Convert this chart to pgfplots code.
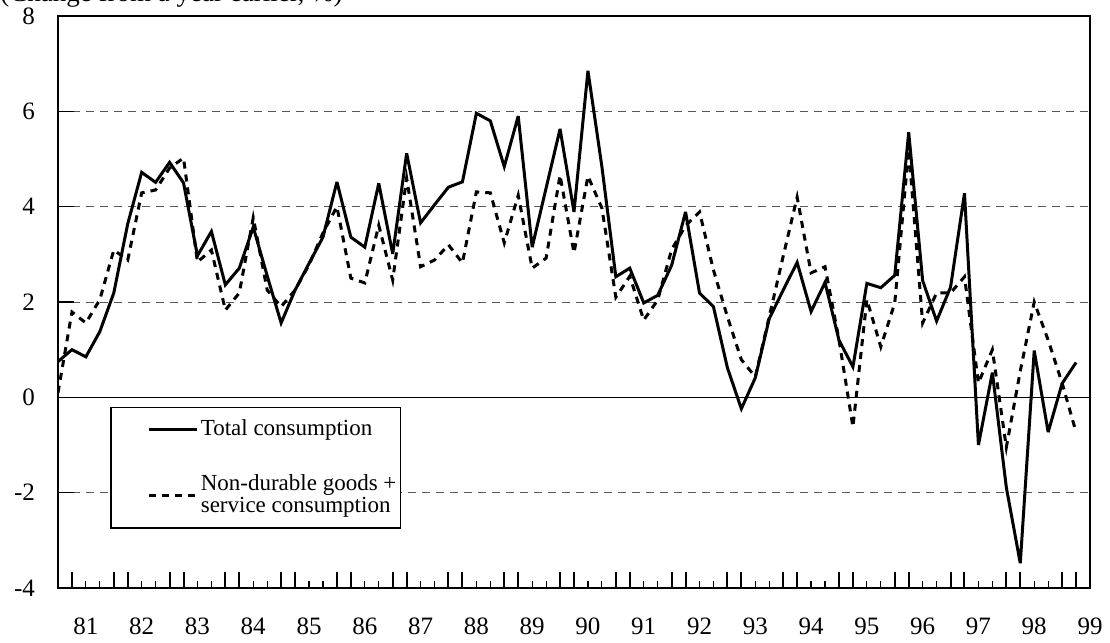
\documentclass[border=0pt]{standalone}
\usepackage{pgfplots}
\pgfplotsset{compat=1.18}
\usepackage{pgfplotstable}
\usepackage{fontspec}
\setmainfont{Liberation Serif}

\pgfplotstableread{
i total nondur
0 0.75 0.10
1 1.00 1.79
2 0.85 1.56
3 1.38 2.05
4 2.19 3.09
5 3.64 2.88
6 4.72 4.29
7 4.51 4.35
8 4.93 4.81
9 4.50 5.02
10 2.97 2.84
11 3.48 3.09
12 2.36 1.83
13 2.71 2.19
14 3.57 3.77
15 2.55 2.25
16 1.56 1.90
17 2.25 2.25
18 2.81 2.78
19 3.36 3.45
20 4.52 4.00
21 3.36 2.50
22 3.15 2.40
23 4.49 3.61
24 3.01 2.46
25 5.12 4.60
26 3.66 2.74
27 4.04 2.88
28 4.41 3.20
29 4.52 2.82
30 5.96 4.31
31 5.80 4.29
32 4.84 3.24
33 5.90 4.24
34 3.15 2.71
35 4.39 2.92
36 5.63 4.66
37 3.89 3.03
38 6.85 4.64
39 4.84 3.97
40 2.53 2.10
41 2.71 2.54
42 1.98 1.62
43 2.14 2.04
44 2.77 3.10
45 3.89 3.60
46 2.19 3.89
47 1.90 2.67
48 0.62 1.69
49 -0.24 0.79
50 0.41 0.43
51 1.65 1.69
52 2.25 2.96
53 2.83 4.20
54 1.80 2.61
55 2.41 2.74
56 1.20 1.21
57 0.64 -0.62
58 2.39 2.05
59 2.30 1.06
60 2.56 1.98
61 5.56 5.20
62 2.45 1.56
63 1.60 2.19
64 2.31 2.19
65 4.28 2.53
66 -1.00 0.30
67 0.52 1.00
68 -1.89 -1.05
69 -3.48 0.55
70 0.98 2.00
71 -0.73 1.20
72 0.29 0.30
73 0.73 -0.73
}\datatable

\begin{document}
\begin{tikzpicture}
\path[use as bounding box] (0pt,0pt) rectangle (555pt,321.5pt);
\node[anchor=base west, inner sep=0pt, font=\fontsize{13.5}{15}\selectfont] at (0pt,320.6pt) {(Change from a year earlier, \%)};
\begin{axis}[
  at={(29pt,27.5pt)}, anchor=south west,
  scale only axis, width=516pt, height=286pt,
  xmin=0, xmax=74, ymin=-4, ymax=8,
  axis line style={line width=0.9pt},
  ytick={-4,-2,0,2,4,6,8},
  ytick pos=left, xtick pos=lower,
  tick align=inside,
  ymajorgrids,
  grid style={gray!70!black, line width=0.5pt, dash pattern=on 4pt off 3pt},
  major tick length=7.8pt,
  y tick style={black, line width=0.6pt, shorten >=3.8pt},
  xtick={0,1,4,5,8,9,12,13,16,17,20,21,24,25,28,29,32,33,36,37,40,41,44,45,48,49,52,53,56,57,60,61,64,65,68,69,72,73},
  xticklabels={},
  x tick style={black, line width=1pt},
  minor xtick={2,3,6,7,10,11,14,15,18,19,22,23,26,27,30,31,34,35,38,39,42,43,46,47,50,51,54,55,58,59,62,63,66,67,70,71},
  minor x tick style={black, line width=0.6pt},
  minor tick length=3.5pt,
  extra x ticks={2,6,10,14,18,22,26,30,34,38,42,46,50,54,58,62,66,70,74},
  extra x tick labels={81,82,83,84,85,86,87,88,89,90,91,92,93,94,95,96,97,98,99},
  extra x tick style={major tick length=0pt, grid=none},
  extra y ticks={0},
  extra y tick labels={},
  extra y tick style={grid style={solid, black, line width=0.6pt}, major tick length=0pt},
  ticklabel style={font=\fontsize{12.5}{14}\selectfont},
  xticklabel style={anchor=north, text height=8.45pt, text depth=0pt, yshift=-11.3pt},
  yticklabel style={xshift=-8pt},
  /pgf/number format/assume math mode=true,
  legend style={at={(axis cs:3.73,-0.2)}, anchor=north west, draw=black, line width=0.8pt,
    font=\fontsize{11.5}{10}\selectfont, cells={align=left, anchor=west},
    nodes={inner xsep=1pt},
    inner xsep=1pt, inner ysep=4pt, row sep=14pt},
  legend image code/.code={\path (0pt,0pt); \draw[#1] (17.5pt,0pt) -- (41.5pt,0pt);},
  legend cell align=left,
]
\addplot[black, line width=1.5pt, line join=miter, miter limit=4] table[x=i, y=total] {\datatable};
\addlegendentry{Total consumption}
\addplot[black, line width=1.5pt, dash pattern=on 3.5pt off 3pt] table[x=i, y=nondur] {\datatable};
\addlegendentry{Non-durable goods +\\service consumption\rule[-8pt]{0pt}{1pt}}
\end{axis}
\end{tikzpicture}
\end{document}
